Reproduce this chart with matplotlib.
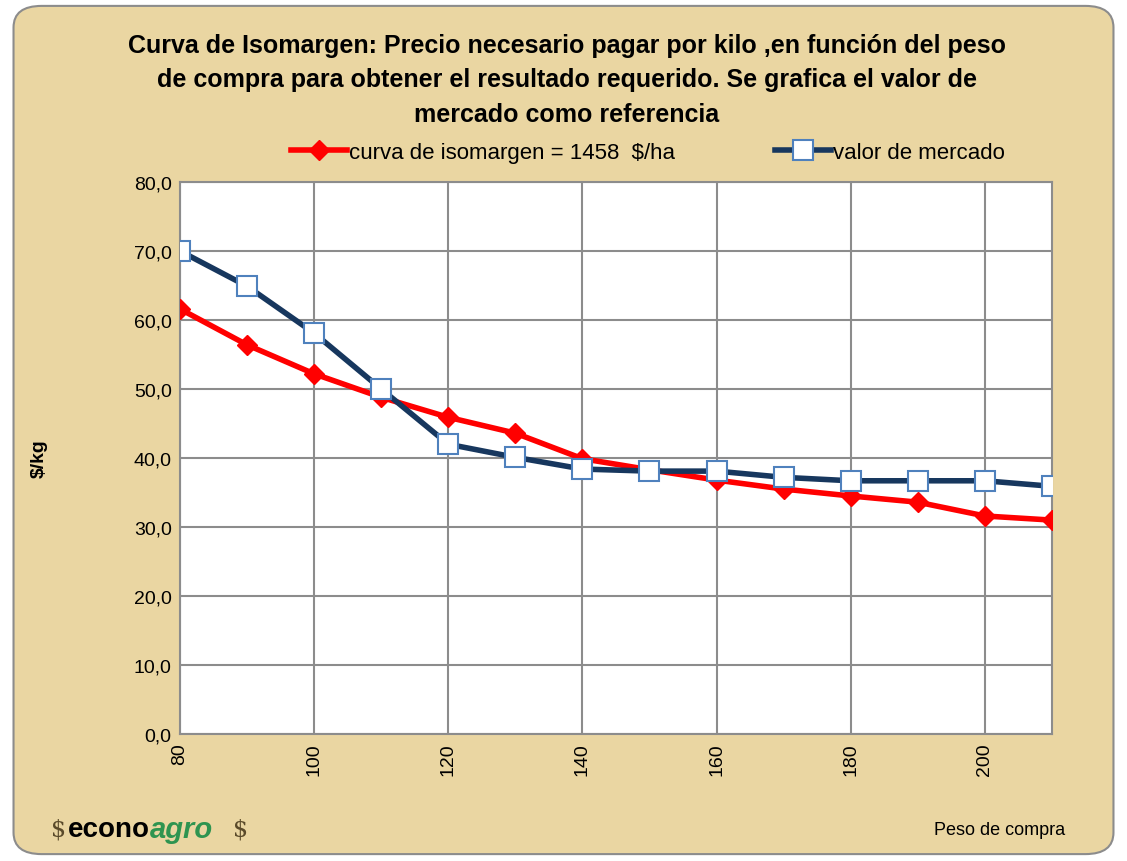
import numpy as np
import matplotlib
matplotlib.use("Agg")
import matplotlib.pyplot as plt
from matplotlib.patches import FancyBboxPatch

plt.rcParams['font.family'] = ['Liberation Sans', 'DejaVu Sans']

# data
peso = [80, 90, 100, 110, 120, 130, 140, 150, 160, 170, 180, 190, 200, 210]
isomargen = [61.6, 56.4, 52.2, 48.8, 45.9, 43.6, 39.9, 38.3, 36.8, 35.5, 34.5, 33.6, 31.6, 31.0]
mercado = [70.0, 64.9, 58.1, 50.0, 42.0, 40.1, 38.4, 38.1, 38.1, 37.2, 36.7, 36.7, 36.7, 35.9]
x_ticks = [80, 100, 120, 140, 160, 180, 200]
y_ticks = [0, 10, 20, 30, 40, 50, 60, 70, 80]

fig = plt.figure(figsize=(11.27, 8.62), dpi=100)
fig.patch.set_facecolor("white")

# parchment panel with rounded grey border
panel = FancyBboxPatch((0.012, 0.008), 0.976, 0.984, boxstyle="round,pad=0,rounding_size=0.025",
                       transform=fig.transFigure, facecolor="#EAD6A2", edgecolor="#8C8C8C",
                       linewidth=1.5, zorder=-10)
fig.patches.append(panel)

ax = fig.add_axes([0.1597, 0.1473, 0.7737, 0.6404])
ax.set_facecolor("white")

ax.plot(peso, isomargen, color="#FF0000", linewidth=4, marker="D", markersize=10,
        markerfacecolor="#FF0000", markeredgecolor="#FF0000",
        label="curva de isomargen = 1458  \\$/ha", zorder=3)
ax.plot(peso, mercado, color="#17375E", linewidth=4, marker="s", markersize=15,
        markerfacecolor="white", markeredgecolor="#4F81BD", markeredgewidth=1.5,
        label="valor de mercado", zorder=4)

ax.set_xlim(80, 210)
ax.set_ylim(0, 80)
ax.set_xticks(x_ticks)
ax.set_xticklabels([str(v) for v in x_ticks], rotation=90, fontsize=14)
ax.set_yticks(y_ticks)
ax.set_yticklabels([f"{v:.1f}".replace(".", ",") for v in y_ticks], fontsize=14)
ax.grid(True, color="#8C8C8C", linewidth=1.5)
ax.set_axisbelow(True)
ax.tick_params(length=0, pad=6)
for s in ax.spines.values():
    s.set_color("#8C8C8C")
    s.set_linewidth(1.5)

ax.set_ylabel("\\$/kg", fontsize=14, fontweight="bold", labelpad=62)

fig.text(0.503, 0.907, "Curva de Isomargen: Precio necesario pagar por kilo ,en función del peso\n"
         "de compra para obtener el resultado requerido. Se grafica el valor de\n"
         "mercado como referencia", ha="center", va="center", fontsize=18,
         fontweight="bold", linespacing=1.55)

fig.legend(loc="center", bbox_to_anchor=(0.575, 0.822), ncol=2, frameon=False,
           fontsize=16, handlelength=2.5, handletextpad=0.1, columnspacing=4.5)

fig.text(0.887, 0.037, "Peso de compra", ha="center", va="center", fontsize=13)

# logo
fig.text(0.045, 0.037, "\\$", fontsize=17, color="#5A4A2A", ha="left", va="center", family="DejaVu Serif")
fig.text(0.060, 0.037, "econo", fontsize=20, fontweight="bold", color="black", ha="left", va="center")
fig.text(0.133, 0.037, "agro", fontsize=21, fontweight="bold", style="italic", color="#2E9450", ha="left", va="center")
fig.text(0.207, 0.037, "\\$", fontsize=17, color="#5A4A2A", ha="left", va="center", family="DejaVu Serif")

fig.savefig("out.png", dpi=100)
